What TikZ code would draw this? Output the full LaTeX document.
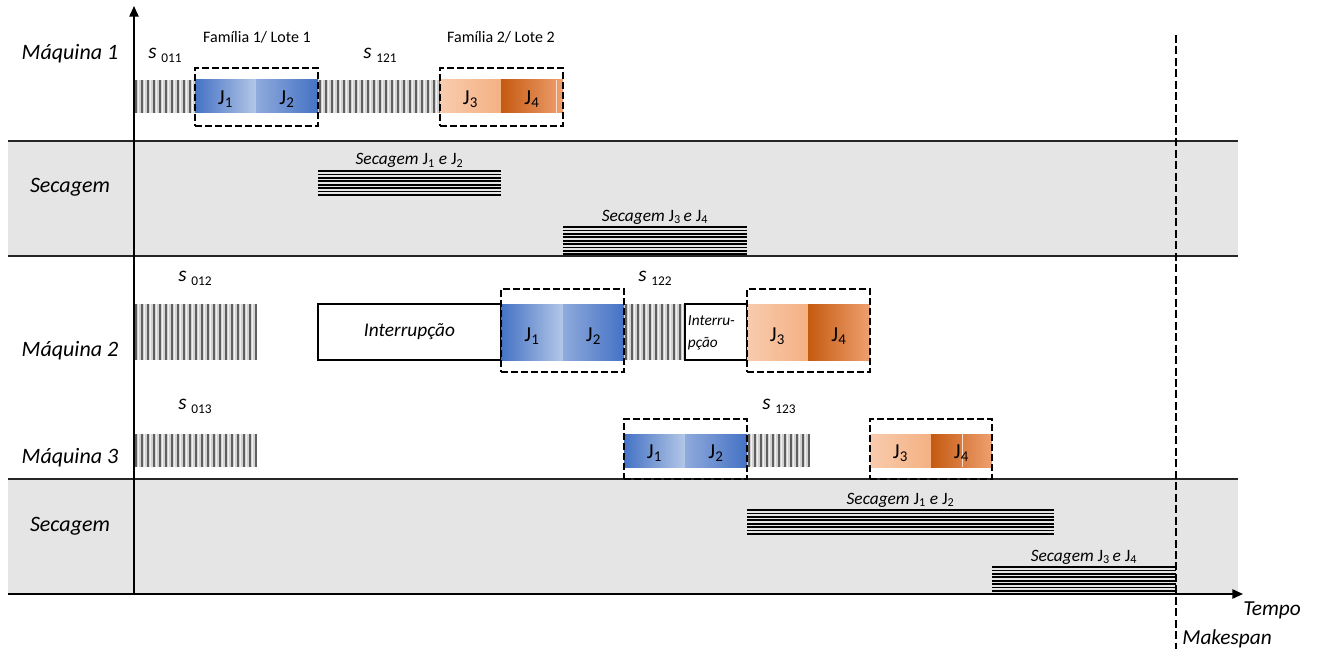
\documentclass[tikz,border=0pt]{standalone}
\usepackage{fontspec}
\setmainfont{Carlito}
\usetikzlibrary{arrows.meta,fit}
\definecolor{bandc}{HTML}{E5E5E5}
\definecolor{hatchbg}{HTML}{D2D2D2}
\definecolor{hatchln}{HTML}{5F5F5F}
\definecolor{blueD}{HTML}{4472C4}
\definecolor{blueL}{HTML}{B4C7E7}
\definecolor{blueM}{HTML}{8FAADC}
\definecolor{orL}{HTML}{F8CBAD}
\definecolor{orM}{HTML}{F4B183}
\definecolor{orD}{HTML}{C55A11}
\definecolor{orM2}{HTML}{EFA070}
\newcommand\bx[6]{\node[#2, fit={(#3,#4) (#5,#6)}, inner sep=0pt, outer sep=0pt] (#1) {};}
\newcommand\Jsb[1]{J\textsubscript{#1}}
\newcommand\sLab[2]{{\itshape s}\ \raisebox{-3pt}{\fontsize{10}{12}\selectfont #2}}
\begin{document}
\begin{tikzpicture}[x=0.75pt,y=-0.75pt,
  bandbox/.style={fill=bandc, draw=none},
  sepline/.style={line width=1.1pt, black!85},
  axisline/.style={line width=1.1pt, black, -{Triangle[width=7pt,length=8pt]}},
  setupbar/.style={fill=hatchbg, path picture={
    \foreach \k in {0,...,45}{
      \draw[hatchln, line width=1.4pt] ([xshift=\k*4.5pt+1.5pt]path picture bounding box.south west) -- ([xshift=\k*4.5pt+1.5pt]path picture bounding box.north west);
      \draw[white!70!hatchbg, line width=0.6pt] ([xshift=\k*4.5pt+3.6pt]path picture bounding box.south west) -- ([xshift=\k*4.5pt+3.6pt]path picture bounding box.north west);
    }}},
  drybar/.style={path picture={
    \foreach \k in {0,...,9}{
      \draw[black, line width=1.35pt] ([yshift=-\k*2.55pt-0.8pt]path picture bounding box.north west) -- ([yshift=-\k*2.55pt-0.8pt]path picture bounding box.north east);
    }}},
  jA/.style={left color=blueD, right color=blueL},
  jB/.style={left color=blueM, right color=blueD},
  jC/.style={left color=orL, right color=orM},
  jD/.style={left color=orD, right color=orM2},
  famdash/.style={draw=black, line width=1.5pt, dash pattern=on 5pt off 2.5pt},
  intbox/.style={draw=black, line width=0.8pt, fill=white},
  rowlab/.style={font=\fontsize{16.5}{20}\selectfont\itshape, inner sep=0pt, anchor=base},
  joblab/.style={font=\fontsize{16}{19}\selectfont, inner sep=0pt},
  famlab/.style={font=\fontsize{12}{14}\selectfont, inner sep=0pt, anchor=base},
  drylab/.style={font=\fontsize{13}{15}\selectfont, inner sep=0pt, anchor=base},
  slab/.style={font=\fontsize{16}{18}\selectfont, inner sep=0pt, anchor=base west},
  axlab/.style={font=\fontsize{16}{19}\selectfont\itshape, inner sep=0pt, anchor=base west},
  mkline/.style={line width=1.5pt, dash pattern=on 6pt off 2.6pt}
]
\useasboundingbox (0,0) rectangle (1320,649);
% bands
\bx{band1}{bandbox}{8}{141}{1238}{256}
\bx{band2}{bandbox}{8}{479}{1238}{594}
\draw[sepline] (band1.north west) -- (band1.north east);
\draw[sepline] (band1.south west) -- (band1.south east);
\draw[sepline] (band2.north west) -- (band2.north east);

% row labels
\node[rowlab] (lm1) at (70,60) {Máquina 1};
\node[rowlab] (ls1) at (70,192) {Secagem};
\node[rowlab] (lm2) at (70,356) {Máquina 2};
\node[rowlab] (lm3) at (70,463) {Máquina 3};
\node[rowlab] (ls2) at (70,531) {Secagem};

% Machine 1
\bx{m1s0}{setupbar}{134}{80}{195}{113}
\bx{m1j1}{jA}{195}{80}{256}{113}
\bx{m1j2}{jB}{256}{80}{318}{113}
\bx{m1s1}{setupbar}{318}{80}{440}{113}
\bx{m1j3}{jC}{440}{80}{501}{113}
\bx{m1j4}{jD}{501}{80}{563}{113}
\draw[white!60!orM, line width=0.6pt] ([xshift=-5.25pt]m1j4.north east) -- ([xshift=-5.25pt]m1j4.south east);
\foreach \n/\t in {m1j1/1,m1j2/2,m1j3/3,m1j4/4}{\node[joblab] at ([yshift=-2pt]\n.center) {\Jsb{\t}};}
\bx{fam1}{famdash}{195}{68}{318}{126}
\bx{fam2}{famdash}{440}{68}{563}{126}
\node[famlab] (tf1) at (257,43) {Família 1/ Lote 1};
\node[famlab] (tf2) at (501,43) {Família 2/ Lote 2};
\node[slab] (s011) at (148,59) {\sLab{s}{011}};
\node[slab] (s121) at (363,59) {\sLab{s}{121}};

% Drying 1
\bx{d11}{drybar}{318}{170}{501}{195}
\bx{d12}{drybar}{563}{226}{747}{256}
\node[drylab] (td11) at ([yshift=3.75pt]d11.north) {{\itshape Secagem} \Jsb{1} {\itshape e} \Jsb{2}};
\node[drylab] (td12) at ([yshift=3.75pt]d12.north) {{\itshape Secagem} \Jsb{3}\kern2pt{\itshape e} \Jsb{4}};

% Machine 2
\bx{m2s0}{setupbar}{134}{304}{257}{360}
\bx{m2int1}{intbox}{318}{304}{501}{360}
\node[font=\fontsize{14.5}{17}\selectfont\itshape, inner sep=0pt] at (m2int1.center) {Interrupção};
\bx{m2j1}{jA}{501}{304}{563}{360}
\bx{m2j2}{jB}{563}{304}{624}{360}
\bx{m2s1}{setupbar}{624}{304}{685}{360}
\bx{m2int2}{intbox}{685}{304}{747}{360}
\node[font=\fontsize{11.5}{16.5}\selectfont\itshape, inner sep=0pt, align=left, anchor=west] at ([xshift=2pt,yshift=-1pt]m2int2.west) {Interru-\\pção};
\bx{m2j3}{jC}{747}{304}{808}{360}
\bx{m2j4}{jD}{808}{304}{870}{360}
\foreach \n/\t in {m2j1/1,m2j2/2,m2j3/3,m2j4/4}{\node[joblab] at ([yshift=-3pt]\n.center) {\Jsb{\t}};}
\bx{fam3}{famdash}{501}{289}{624}{372}
\bx{fam4}{famdash}{747}{289}{870}{372}
\node[slab] (s012) at (178,281) {\sLab{s}{012}};
\node[slab] (s122) at (638,281) {\sLab{s}{122}};

% Machine 3
\bx{m3s0}{setupbar}{134}{434}{257}{467}
\bx{m3j1}{jA}{624}{434}{685}{467}
\bx{m3j2}{jB}{685}{434}{747}{467}
\bx{m3s1}{setupbar}{747}{434}{810}{467}
\bx{m3j3}{jC}{870}{434}{931}{467}
\bx{m3j4}{jD}{931}{434}{992}{467}
\draw[white!60!orM, line width=0.5pt] ([xshift=-22.5pt]m3j4.north east) -- ([xshift=-22.5pt]m3j4.south east);
\foreach \n/\t in {m3j1/1,m3j2/2,m3j3/3,m3j4/4}{\node[joblab] at ([yshift=-2pt]\n.center) {\Jsb{\t}};}
\bx{fam5}{famdash}{624}{419}{747}{479}
\bx{fam6}{famdash}{870}{419}{992}{479}
\node[slab] (s013) at (178,409) {\sLab{s}{013}};
\node[slab] (s123) at (762,409) {\sLab{s}{123}};

% Drying 2
\bx{d21}{drybar}{747}{509}{1054}{535}
\bx{d22}{drybar}{992}{566}{1176}{594}
\node[drylab] (td21) at ([yshift=3.75pt]d21.north) {{\itshape Secagem} \Jsb{1} {\itshape e} \Jsb{2}};
\node[drylab] (td22) at ([yshift=3.75pt]d22.north) {{\itshape Secagem} \Jsb{3}\kern2pt{\itshape e} \Jsb{4}};

% axes
\coordinate (org) at (134,594);
\coordinate (ytop) at (134,6);
\coordinate (xleft) at (8,594);
\coordinate (xend) at (1243,594);
\draw[axisline] (org) -- (ytop);
\draw[axisline] (xleft) -- (xend);

% makespan
\coordinate (mtop) at (1176,35);
\coordinate (mbot) at (1176,649);
\draw[mkline] (mtop) -- (mbot);
\begin{scope}
\clip (0,0) rectangle (1300,649);
\node[axlab] (tempo) at (1243,615) {Tempo};
\end{scope}
\node[axlab] (mk) at (1182,644) {Makespan};
\end{tikzpicture}
\end{document}
